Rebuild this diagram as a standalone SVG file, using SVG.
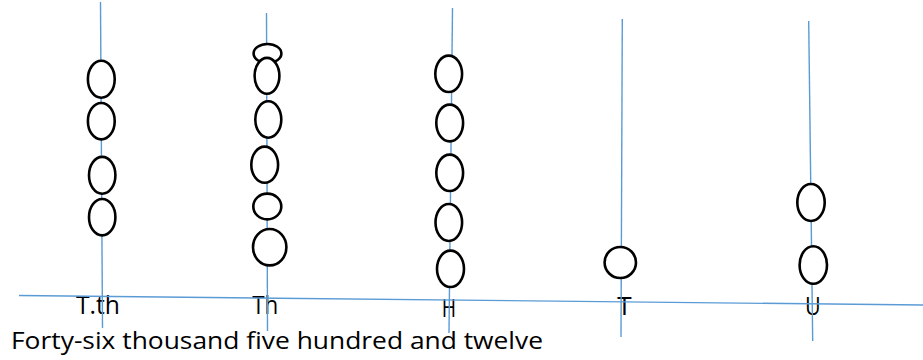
<svg xmlns="http://www.w3.org/2000/svg" width="923" height="360" viewBox="0 0 923 360">
  <style>
    .rod { stroke: #5B9BD5; stroke-width: 1.4; fill: none; }
    .bead { fill: #ffffff; stroke: #000000; stroke-width: 2.6; }
    .lbl { font-family: "Open Sans", "Noto Sans", "Liberation Sans", sans-serif; font-size: 26px; fill: #000000; }
    .caption { font-family: "Open Sans", "Noto Sans", "Liberation Sans", sans-serif; font-size: 24.5px; fill: #000000; }
  </style>
  <rect width="923" height="360" fill="#ffffff"/>

  <!-- place-value labels -->
  <g id="labels">
    <text class="lbl" x="76" y="314" textLength="44" lengthAdjust="spacingAndGlyphs">T.th</text>
    <text class="lbl" x="252.3" y="314" textLength="26" lengthAdjust="spacingAndGlyphs">Th</text>
    <text class="lbl" x="441.7" y="316.5" textLength="14.3" lengthAdjust="spacingAndGlyphs">H</text>
    <text class="lbl" x="617.3" y="314.5" textLength="14.4" lengthAdjust="spacingAndGlyphs">T</text>
    <text class="lbl" x="805" y="315" textLength="15.7" lengthAdjust="spacingAndGlyphs">U</text>
  </g>

  <!-- abacus base line -->
  <g id="connectors">
    <line class="rod" x1="19" y1="295.5" x2="923" y2="305"/>
  </g>

  <!-- ten-thousands rod: 4 beads -->
  <g id="col-ten-thousands">
    <line class="rod" x1="100.5" y1="2" x2="102.5" y2="328"/>
    <ellipse class="bead" cx="101.3" cy="79.2" rx="13.4" ry="18.5"/>
    <ellipse class="bead" cx="101.3" cy="121.2" rx="13.4" ry="18.2"/>
    <ellipse class="bead" cx="102.2" cy="175.3" rx="13.2" ry="18.4"/>
    <ellipse class="bead" cx="102.2" cy="217.2" rx="13.2" ry="18.2"/>
  </g>

  <!-- thousands rod: 6 beads -->
  <g id="col-thousands">
    <line class="rod" x1="266.5" y1="13" x2="267.5" y2="331"/>
    <ellipse class="bead" cx="267.5" cy="53.5" rx="13.9" ry="9.5"/>
    <ellipse class="bead" cx="267" cy="75.8" rx="12.4" ry="17.9"/>
    <ellipse class="bead" cx="268.3" cy="119.5" rx="13" ry="18.2"/>
    <ellipse class="bead" cx="264.7" cy="164.7" rx="13.4" ry="18.1"/>
    <ellipse class="bead" cx="267.3" cy="206.5" rx="14" ry="12.9"/>
    <ellipse class="bead" cx="269.7" cy="247.2" rx="16.7" ry="18.2"/>
  </g>

  <!-- hundreds rod: 5 beads -->
  <g id="col-hundreds">
    <line class="rod" x1="452.5" y1="8" x2="449" y2="333"/>
    <ellipse class="bead" cx="448.7" cy="73.8" rx="13.4" ry="18.2"/>
    <ellipse class="bead" cx="449.7" cy="123" rx="13.4" ry="18.4"/>
    <ellipse class="bead" cx="449.7" cy="172.8" rx="13.4" ry="18.2"/>
    <ellipse class="bead" cx="448.8" cy="222.5" rx="13.3" ry="18.5"/>
    <ellipse class="bead" cx="450.5" cy="268.8" rx="13.5" ry="18.2"/>
  </g>

  <!-- tens rod: 1 bead -->
  <g id="col-tens">
    <line class="rod" x1="622.3" y1="19" x2="621" y2="337"/>
    <ellipse class="bead" cx="620.3" cy="262.5" rx="15.7" ry="15.5"/>
  </g>

  <!-- units rod: 2 beads -->
  <g id="col-units">
    <line class="rod" x1="808.7" y1="21" x2="812.7" y2="341"/>
    <ellipse class="bead" cx="811" cy="202.5" rx="13.7" ry="18.5"/>
    <ellipse class="bead" cx="813.3" cy="265" rx="13.7" ry="18.7"/>
  </g>

  <!-- number in words -->
  <g id="caption">
    <text class="caption" x="11" y="349.3" textLength="532" lengthAdjust="spacingAndGlyphs">Forty-six thousand five hundred and twelve</text>
  </g>
</svg>
